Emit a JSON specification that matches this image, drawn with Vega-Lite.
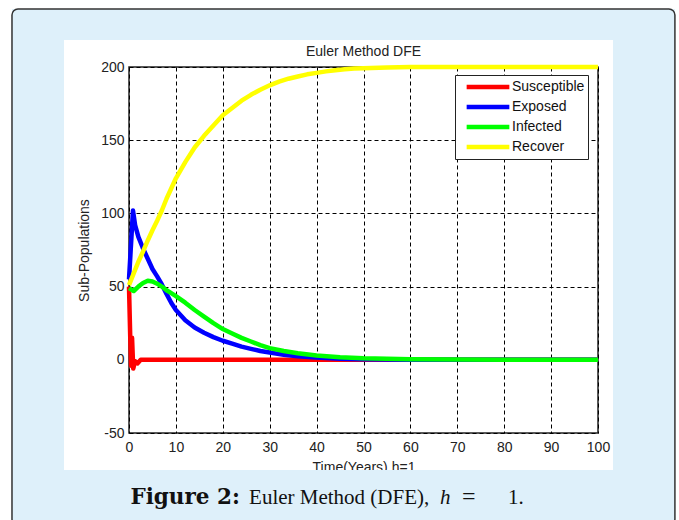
{
  "$schema": "https://vega.github.io/schema/vega-lite/v6.json",
  "width": 469,
  "height": 366,
  "autosize": {"type": "none"},
  "padding": {"left": 129, "top": 67, "right": 81, "bottom": 87},
  "background": "white",
  "config": {
    "view": {"stroke": "#222", "strokeWidth": 1.5, "fill": "white"},
    "axis": {
      "labelFont": "Liberation Sans", "labelFontSize": 14, "labelColor": "#222",
      "titleFont": "Liberation Sans", "titleFontSize": 14, "titleFontWeight": "normal", "titleColor": "#222",
      "ticks": false, "domain": false, "grid": true, "gridColor": "#000", "gridOpacity": 1, "gridWidth": 1, "gridDash": [4, 3],
      "labelFlush": false, "labelOverlap": false, "labelBound": false
    }
  },
  "layer": [
    {
      "data": {"values": [
        {"t": 0, "group": "Susceptible", "value": 50},
        {"t": 0.25, "group": "Susceptible", "value": 17},
        {"t": 0.45, "group": "Susceptible", "value": -4},
        {"t": 0.65, "group": "Susceptible", "value": 15},
        {"t": 0.9, "group": "Susceptible", "value": -6},
        {"t": 1.3, "group": "Susceptible", "value": -1},
        {"t": 1.8, "group": "Susceptible", "value": -2.5},
        {"t": 2.5, "group": "Susceptible", "value": 0},
        {"t": 100, "group": "Susceptible", "value": 0},

        {"t": 0, "group": "Exposed", "value": 55},
        {"t": 0.85, "group": "Exposed", "value": 102},
        {"t": 1.3, "group": "Exposed", "value": 92},
        {"t": 2, "group": "Exposed", "value": 84},
        {"t": 3, "group": "Exposed", "value": 76},
        {"t": 4, "group": "Exposed", "value": 69},
        {"t": 5, "group": "Exposed", "value": 62},
        {"t": 6, "group": "Exposed", "value": 57},
        {"t": 7, "group": "Exposed", "value": 51.5},
        {"t": 8, "group": "Exposed", "value": 45},
        {"t": 9, "group": "Exposed", "value": 39},
        {"t": 10, "group": "Exposed", "value": 34},
        {"t": 12, "group": "Exposed", "value": 27},
        {"t": 14, "group": "Exposed", "value": 22},
        {"t": 16, "group": "Exposed", "value": 18.5},
        {"t": 18, "group": "Exposed", "value": 15.5},
        {"t": 20, "group": "Exposed", "value": 13},
        {"t": 22, "group": "Exposed", "value": 11},
        {"t": 24, "group": "Exposed", "value": 9},
        {"t": 26, "group": "Exposed", "value": 7.5},
        {"t": 28, "group": "Exposed", "value": 6},
        {"t": 30, "group": "Exposed", "value": 5},
        {"t": 33, "group": "Exposed", "value": 3.5},
        {"t": 36, "group": "Exposed", "value": 2.5},
        {"t": 40, "group": "Exposed", "value": 1.5},
        {"t": 45, "group": "Exposed", "value": 0.8},
        {"t": 50, "group": "Exposed", "value": 0.4},
        {"t": 60, "group": "Exposed", "value": 0.1},
        {"t": 70, "group": "Exposed", "value": 0},
        {"t": 100, "group": "Exposed", "value": 0},

        {"t": 0, "group": "Infected", "value": 49},
        {"t": 1, "group": "Infected", "value": 47},
        {"t": 2, "group": "Infected", "value": 50},
        {"t": 3, "group": "Infected", "value": 52.5},
        {"t": 4, "group": "Infected", "value": 54},
        {"t": 5, "group": "Infected", "value": 53.5},
        {"t": 6, "group": "Infected", "value": 52},
        {"t": 7, "group": "Infected", "value": 50},
        {"t": 8, "group": "Infected", "value": 47.5},
        {"t": 9, "group": "Infected", "value": 45.5},
        {"t": 10, "group": "Infected", "value": 43.5},
        {"t": 12, "group": "Infected", "value": 39},
        {"t": 14, "group": "Infected", "value": 34},
        {"t": 16, "group": "Infected", "value": 29.5},
        {"t": 18, "group": "Infected", "value": 25},
        {"t": 20, "group": "Infected", "value": 21},
        {"t": 22, "group": "Infected", "value": 18},
        {"t": 24, "group": "Infected", "value": 15},
        {"t": 26, "group": "Infected", "value": 12.5},
        {"t": 28, "group": "Infected", "value": 10},
        {"t": 30, "group": "Infected", "value": 8},
        {"t": 33, "group": "Infected", "value": 6},
        {"t": 36, "group": "Infected", "value": 4.5},
        {"t": 40, "group": "Infected", "value": 3},
        {"t": 45, "group": "Infected", "value": 1.8},
        {"t": 50, "group": "Infected", "value": 1},
        {"t": 60, "group": "Infected", "value": 0.4},
        {"t": 70, "group": "Infected", "value": 0.15},
        {"t": 80, "group": "Infected", "value": 0.05},
        {"t": 100, "group": "Infected", "value": 0},

        {"t": 0, "group": "Recover", "value": 51},
        {"t": 1, "group": "Recover", "value": 59},
        {"t": 2, "group": "Recover", "value": 67},
        {"t": 3, "group": "Recover", "value": 74},
        {"t": 4, "group": "Recover", "value": 81.5},
        {"t": 5, "group": "Recover", "value": 88.5},
        {"t": 6, "group": "Recover", "value": 95},
        {"t": 7, "group": "Recover", "value": 102},
        {"t": 8, "group": "Recover", "value": 110},
        {"t": 9, "group": "Recover", "value": 117},
        {"t": 10, "group": "Recover", "value": 124},
        {"t": 12, "group": "Recover", "value": 135},
        {"t": 14, "group": "Recover", "value": 145},
        {"t": 16, "group": "Recover", "value": 153},
        {"t": 18, "group": "Recover", "value": 160},
        {"t": 20, "group": "Recover", "value": 167},
        {"t": 22, "group": "Recover", "value": 172},
        {"t": 24, "group": "Recover", "value": 177},
        {"t": 26, "group": "Recover", "value": 181},
        {"t": 28, "group": "Recover", "value": 184.5},
        {"t": 30, "group": "Recover", "value": 187.5},
        {"t": 32, "group": "Recover", "value": 190},
        {"t": 34, "group": "Recover", "value": 192},
        {"t": 36, "group": "Recover", "value": 193.5},
        {"t": 38, "group": "Recover", "value": 195},
        {"t": 40, "group": "Recover", "value": 196},
        {"t": 42, "group": "Recover", "value": 197},
        {"t": 44, "group": "Recover", "value": 197.8},
        {"t": 46, "group": "Recover", "value": 198.4},
        {"t": 48, "group": "Recover", "value": 198.9},
        {"t": 50, "group": "Recover", "value": 199.2},
        {"t": 55, "group": "Recover", "value": 199.7},
        {"t": 60, "group": "Recover", "value": 200},
        {"t": 100, "group": "Recover", "value": 200}
      ]},
      "mark": {"type": "line", "strokeWidth": 4.5, "strokeJoin": "round"},
      "encoding": {
        "x": {"field": "t", "type": "quantitative", "scale": {"domain": [0, 100], "nice": false, "zero": false},
              "axis": {"values": [0, 10, 20, 30, 40, 50, 60, 70, 80, 90, 100], "title": "Time(Years) h=1", "labelPadding": 7, "titlePadding": 6, "labelExpr": "'' + datum.value"}},
        "y": {"field": "value", "type": "quantitative", "scale": {"domain": [-50, 200], "nice": false, "zero": false},
              "axis": {"values": [-50, 0, 50, 100, 150, 200], "title": "Sub-Populations", "labelPadding": 5, "titlePadding": 9, "labelExpr": "'' + datum.value"}},
        "color": {"field": "group", "type": "nominal",
          "scale": {"domain": ["Susceptible", "Exposed", "Infected", "Recover"], "range": ["#ff0000", "#0000ff", "#00ff00", "#ffff00"]},
          "legend": {"orient": "none", "legendX": 326, "legendY": 8, "direction": "vertical", "title": null,
            "fillColor": "white", "strokeColor": "#222", "padding": 3, "symbolType": "stroke", "symbolSize": 1823,
            "symbolStrokeWidth": 4.5, "symbolOffset": 6, "clipHeight": 18, "rowPadding": 2,
            "labelFont": "Liberation Sans", "labelFontSize": 14, "labelOffset": 0, "labelColor": "#111"}}
      }
    },
    {
      "data": {"values": [{}]},
      "mark": {"type": "rect", "color": "#def0fa"},
      "encoding": {
        "x": {"datum": -24.95, "type": "quantitative", "scale": {"domain": [0, 100], "nice": false, "zero": false}},
        "x2": {"datum": 116.4},
        "y": {"datum": 239.6, "type": "quantitative", "scale": {"domain": [-50, 200], "nice": false, "zero": false}},
        "y2": {"datum": 218.4}
      }
    },
    {
      "data": {"values": [{}]},
      "mark": {"type": "rect", "color": "#def0fa"},
      "encoding": {
        "x": {"datum": -24.95, "type": "quantitative", "scale": {"domain": [0, 100], "nice": false, "zero": false}},
        "x2": {"datum": 116.4},
        "y": {"datum": -75.3, "type": "quantitative", "scale": {"domain": [-50, 200], "nice": false, "zero": false}},
        "y2": {"datum": -112.8}
      }
    },
    {
      "data": {"values": [{}]},
      "mark": {"type": "rect", "color": "#def0fa"},
      "encoding": {
        "x": {"datum": -24.95, "type": "quantitative", "scale": {"domain": [0, 100], "nice": false, "zero": false}},
        "x2": {"datum": -13.86},
        "y": {"datum": 218.4, "type": "quantitative", "scale": {"domain": [-50, 200], "nice": false, "zero": false}},
        "y2": {"datum": -75.3}
      }
    },
    {
      "data": {"values": [{}]},
      "mark": {"type": "rect", "color": "#def0fa"},
      "encoding": {
        "x": {"datum": 103.2, "type": "quantitative", "scale": {"domain": [0, 100], "nice": false, "zero": false}},
        "x2": {"datum": 116.4},
        "y": {"datum": 218.4, "type": "quantitative", "scale": {"domain": [-50, 200], "nice": false, "zero": false}},
        "y2": {"datum": -75.3}
      }
    },
    {
      "data": {"values": [{}]},
      "mark": {"type": "rect", "fill": "white", "fillOpacity": 0, "stroke": "#333", "strokeWidth": 1.5, "cornerRadius": 6},
      "encoding": {
        "x": {"datum": -24.95, "type": "quantitative", "scale": {"domain": [0, 100], "nice": false, "zero": false}},
        "x2": {"datum": 116.4},
        "y": {"datum": 239.6, "type": "quantitative", "scale": {"domain": [-50, 200], "nice": false, "zero": false}},
        "y2": {"datum": -112.8}
      }
    },
    {
      "data": {"values": [{}]},
      "mark": {"type": "text", "text": "Euler Method DFE", "font": "Liberation Sans", "fontSize": 14, "align": "center", "baseline": "alphabetic", "color": "#222"},
      "encoding": {
        "x": {"datum": 50, "type": "quantitative", "scale": {"domain": [0, 100], "nice": false, "zero": false}},
        "y": {"datum": 207.2, "type": "quantitative", "scale": {"domain": [-50, 200], "nice": false, "zero": false}}
      }
    },
    {
      "data": {"values": [{}]},
      "mark": {"type": "text", "text": "Figure 2:", "font": "DejaVu Serif", "fontWeight": "bold", "fontSize": 21.5, "align": "left", "baseline": "alphabetic", "color": "#111"},
      "encoding": {
        "x": {"datum": 0.3, "type": "quantitative", "scale": {"domain": [0, 100], "nice": false, "zero": false}},
        "y": {"datum": -98.8, "type": "quantitative", "scale": {"domain": [-50, 200], "nice": false, "zero": false}}
      }
    },
    {
      "data": {"values": [{}]},
      "mark": {"type": "text", "text": "Euler Method (DFE),", "font": "Liberation Serif", "fontSize": 21, "align": "left", "baseline": "alphabetic", "color": "#111"},
      "encoding": {
        "x": {"datum": 25.6, "type": "quantitative", "scale": {"domain": [0, 100], "nice": false, "zero": false}},
        "y": {"datum": -98.8, "type": "quantitative", "scale": {"domain": [-50, 200], "nice": false, "zero": false}}
      }
    },
    {
      "data": {"values": [{}]},
      "mark": {"type": "text", "text": "h", "font": "Liberation Serif", "fontStyle": "italic", "fontSize": 21, "align": "left", "baseline": "alphabetic", "color": "#111"},
      "encoding": {
        "x": {"datum": 66.3, "type": "quantitative", "scale": {"domain": [0, 100], "nice": false, "zero": false}},
        "y": {"datum": -98.8, "type": "quantitative", "scale": {"domain": [-50, 200], "nice": false, "zero": false}}
      }
    },
    {
      "data": {"values": [{}]},
      "mark": {"type": "text", "text": "=", "font": "Liberation Serif", "fontSize": 24, "align": "left", "baseline": "alphabetic", "color": "#111"},
      "encoding": {
        "x": {"datum": 71.0, "type": "quantitative", "scale": {"domain": [0, 100], "nice": false, "zero": false}},
        "y": {"datum": -98.8, "type": "quantitative", "scale": {"domain": [-50, 200], "nice": false, "zero": false}}
      }
    },
    {
      "data": {"values": [{}]},
      "mark": {"type": "text", "text": "1.", "font": "Liberation Serif", "fontSize": 21, "align": "left", "baseline": "alphabetic", "color": "#111"},
      "encoding": {
        "x": {"datum": 80.8, "type": "quantitative", "scale": {"domain": [0, 100], "nice": false, "zero": false}},
        "y": {"datum": -98.8, "type": "quantitative", "scale": {"domain": [-50, 200], "nice": false, "zero": false}}
      }
    }
  ]
}
